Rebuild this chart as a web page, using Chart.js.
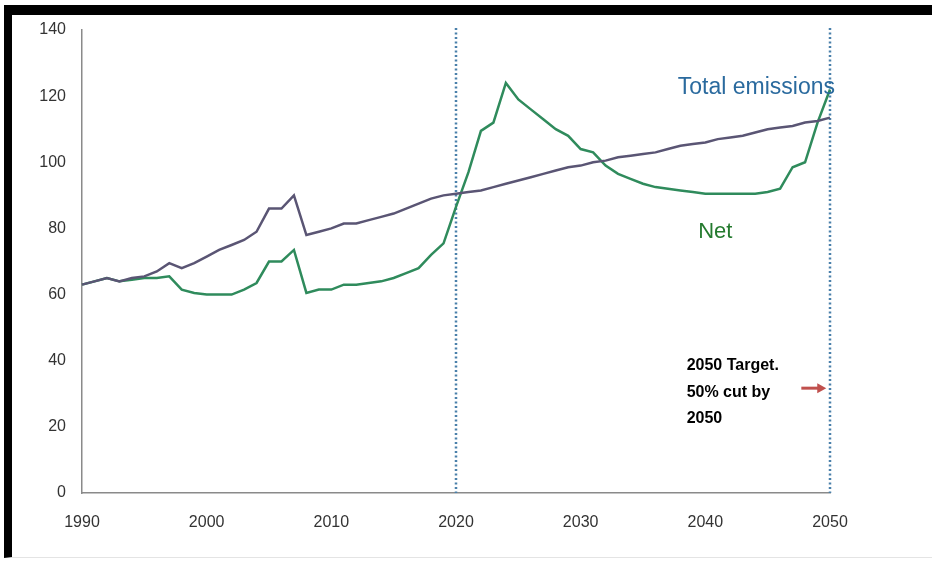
<!DOCTYPE html>
<html>
<head>
<meta charset="utf-8">
<script src="https://cdn.jsdelivr.net/npm/chart.js@4.4.1/dist/chart.umd.min.js"></script>
<style>
  html, body { margin: 0; padding: 0; background: #fff; }
  #wrap { position: relative; width: 932px; height: 562px; overflow: hidden; }
  #frame {
    position: absolute; left: 4px; top: 5px; right: -20px; bottom: 4px;
    border-top: 10px solid #000; border-left: 8px solid #000;
    border-bottom: 1px solid #e4e4e4;
  }
  canvas { position: absolute; left: 0; top: 0; }
</style>
</head>
<body>
<div id="wrap">
  <div id="frame"></div>
  <canvas id="chart" width="932" height="562"></canvas>
</div>
<script>
// yearly series, 1990 .. 2050
const firstYear = 1990;
const totalEmissions = [
  63, 64, 65, 64, 65, 65.5, 67, 69.5, 68, 69.5,
  71.5, 73.5, 75, 76.5, 79, 86, 86, 90, 78, 79,
  80, 81.5, 81.5, 82.5, 83.5, 84.5, 86, 87.5, 89, 90,
  90.5, 91, 91.5, 92.5, 93.5, 94.5, 95.5, 96.5, 97.5, 98.5,
  99, 100, 100.5, 101.5, 102, 102.5, 103, 104, 105, 105.5,
  106, 107, 107.5, 108, 109, 110, 110.5, 111, 112, 112.5,
  113.5
];
const netEmissions = [
  63, 64, 65, 64, 64.5, 65, 65, 65.5, 61.5, 60.5,
  60, 60, 60, 61.5, 63.5, 70, 70, 73.5, 60.5, 61.5,
  61.5, 63, 63, 63.5, 64, 65, 66.5, 68, 72, 75.5,
  86.5, 97, 109.5, 112, 124, 119, 116, 113, 110, 108,
  104, 103, 99, 96.5, 95, 93.5, 92.5, 92, 91.5, 91,
  90.5, 90.5, 90.5, 90.5, 90.5, 91, 92, 98.5, 100, 112,
  122
];
const xTicks = [1990, 2000, 2010, 2020, 2030, 2040, 2050];
const yTicks = [0, 20, 40, 60, 80, 100, 120, 140];
const markerYears = [2020, 2050];
const targetLines = ['2050 Target.', '50% cut by', '2050'];

const toPoints = arr => arr.map((v, i) => ({ x: firstYear + i, y: v }));

const sans = "'Liberation Sans', Arial, sans-serif";

// dotted year markers plus the text labels and target arrow
const overlay = {
  id: 'overlay',
  beforeDatasetsDraw(chart) {
    const { ctx, chartArea, scales: { x } } = chart;
    ctx.save();
    ctx.strokeStyle = '#4a80aa';
    ctx.lineWidth = 2.5;
    ctx.setLineDash([2, 2.5]);
    markerYears.forEach(yr => {
      const px = Math.round(x.getPixelForValue(yr));
      ctx.beginPath();
      ctx.moveTo(px, chartArea.top - 2);
      ctx.lineTo(px, chartArea.bottom);
      ctx.stroke();
    });
    ctx.restore();
  },
  afterDatasetsDraw(chart) {
    const { ctx, scales: { x, y } } = chart;
    ctx.save();
    ctx.textBaseline = 'middle';

    ctx.textAlign = 'center';
    ctx.fillStyle = '#2a6a9e';
    ctx.font = '23px ' + sans;
    ctx.fillText('Total emissions', x.getPixelForValue(2044.1), y.getPixelForValue(122.5));

    ctx.fillStyle = '#247a2e';
    ctx.font = '22px ' + sans;
    ctx.fillText('Net', x.getPixelForValue(2040.8), y.getPixelForValue(78.8));

    ctx.textAlign = 'left';
    ctx.fillStyle = '#000';
    ctx.font = 'bold 16px ' + sans;
    const tx = x.getPixelForValue(2038.5);
    const ty = y.getPixelForValue(38.5);
    targetLines.forEach((t, i) => ctx.fillText(t, tx, ty + i * 26.5));

    // red arrow pointing at the 2050 marker
    const ay = y.getPixelForValue(31.7);
    const ax0 = x.getPixelForValue(2047.7);
    const ax1 = x.getPixelForValue(2049.7);
    ctx.strokeStyle = '#c0504d';
    ctx.fillStyle = '#c0504d';
    ctx.lineWidth = 3;
    ctx.beginPath();
    ctx.moveTo(ax0, ay);
    ctx.lineTo(ax1 - 7, ay);
    ctx.stroke();
    ctx.beginPath();
    ctx.moveTo(ax1, ay);
    ctx.lineTo(ax1 - 9, ay - 5);
    ctx.lineTo(ax1 - 9, ay + 5);
    ctx.closePath();
    ctx.fill();
    ctx.restore();
  }
};

new Chart(document.getElementById('chart'), {
  type: 'line',
  data: {
    datasets: [
      {
        label: 'Total emissions',
        data: toPoints(totalEmissions),
        borderColor: '#5a5574',
        borderWidth: 2.5,
        pointRadius: 0,
        tension: 0,
        clip: false
      },
      {
        label: 'Net',
        data: toPoints(netEmissions),
        borderColor: '#2f8b5c',
        borderWidth: 2.5,
        pointRadius: 0,
        tension: 0,
        clip: false
      }
    ]
  },
  options: {
    responsive: false,
    animation: false,
    events: [],
    layout: { padding: { left: 0, top: 30, right: 102, bottom: 0 } },
    plugins: {
      legend: { display: false },
      tooltip: { enabled: false }
    },
    scales: {
      x: {
        type: 'linear',
        min: 1990,
        max: 2050,
        afterBuildTicks: s => { s.ticks = xTicks.map(v => ({ value: v })); },
        afterFit: s => { s.height = 69; },
        grid: { display: false, drawTicks: false },
        border: { color: '#8a8a8a', width: 1.5 },
        ticks: {
          padding: 20,
          color: '#333',
          font: { family: sans, size: 16 },
          maxRotation: 0,
          callback: v => String(v)
        }
      },
      y: {
        min: 0,
        max: 140,
        afterBuildTicks: s => { s.ticks = yTicks.map(v => ({ value: v })); },
        afterFit: s => { s.width = 82; },
        grid: { display: false, drawTicks: false },
        border: { color: '#8a8a8a', width: 1.5 },
        ticks: {
          padding: 16,
          color: '#333',
          font: { family: sans, size: 16 },
          callback: v => String(v)
        }
      }
    }
  },
  plugins: [overlay]
});
</script>
</body>
</html>
